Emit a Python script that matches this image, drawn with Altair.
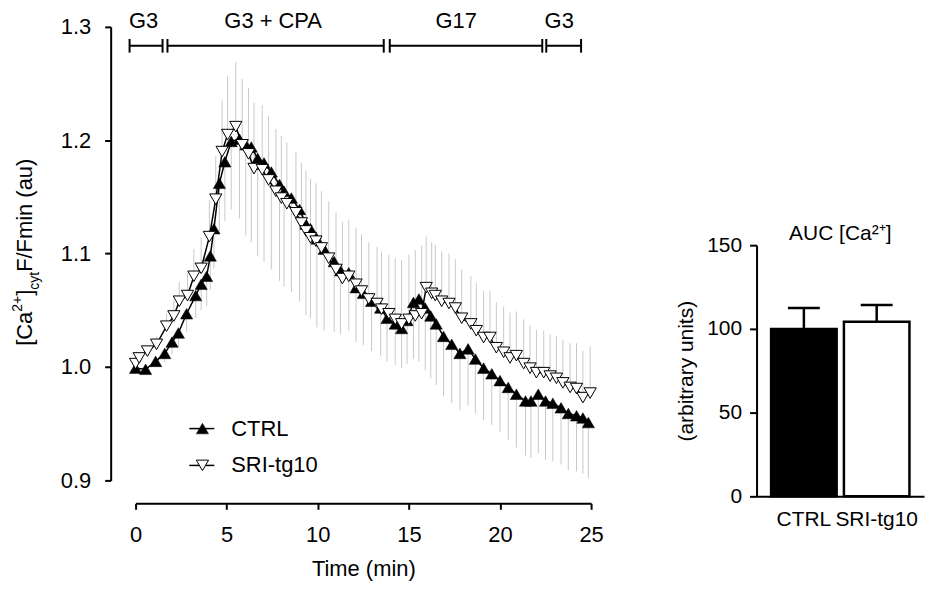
import altair as alt
import pandas as pd

# ---------------- data ----------------
ctrl_t = [0, 0.55, 1.1, 1.6, 2.0, 2.35, 2.8, 3.3, 3.6, 3.9, 4.1, 4.3, 4.6, 4.9, 5.25,
          5.7, 6.05, 6.35, 6.7, 7.05, 7.45, 7.9, 8.15, 8.55, 9.0, 9.35, 9.6, 9.95, 10.35, 10.9,
          11.25, 11.7, 12.1, 12.5, 12.95, 13.45, 13.8, 14.25, 14.6, 14.9, 15.25, 15.55, 15.9, 16.2, 16.5,
          16.9, 17.35, 17.8, 18.25, 18.65, 19.1, 19.55, 20.0, 20.45, 20.9, 21.4, 21.7, 22.1, 22.5, 22.9,
          23.35, 23.75, 24.2, 24.55, 24.85]
ctrl_y = [0.999, 0.998, 1.005, 1.012, 1.022, 1.030, 1.047, 1.063, 1.073, 1.080, 1.098, 1.122, 1.162, 1.181, 1.199,
          1.201, 1.196, 1.194, 1.184, 1.180, 1.172, 1.161, 1.155, 1.149, 1.139, 1.126, 1.122, 1.113, 1.104, 1.093,
          1.085, 1.083, 1.070, 1.065, 1.058, 1.052, 1.043, 1.038, 1.034, 1.041, 1.057, 1.060, 1.052, 1.045, 1.038,
          1.027, 1.020, 1.012, 1.016, 1.007, 0.999, 0.994, 0.988, 0.982, 0.976, 0.970, 0.970, 0.976, 0.970, 0.968,
          0.964, 0.959, 0.957, 0.955, 0.951]
ctrl_sem = [0.000, 0.002, 0.005, 0.008, 0.011, 0.013, 0.016, 0.020, 0.023, 0.026, 0.030, 0.035, 0.045, 0.052, 0.060,
            0.070, 0.080, 0.084, 0.086, 0.087, 0.086, 0.085, 0.084, 0.083, 0.081, 0.080, 0.079, 0.078, 0.072, 0.062,
            0.056, 0.051, 0.048, 0.046, 0.044, 0.042, 0.038, 0.036, 0.035, 0.038, 0.050, 0.055, 0.055, 0.055, 0.054,
            0.053, 0.052, 0.050, 0.050, 0.048, 0.046, 0.045, 0.045, 0.046, 0.047, 0.048, 0.050, 0.052, 0.052, 0.051,
            0.050, 0.050, 0.049, 0.049, 0.049]

sri_t = [0, 0.2, 0.65, 1.15, 1.7, 2.1, 2.4, 2.85, 3.2, 3.6, 4.05, 4.4, 4.75, 5.05, 5.5,
         5.85, 6.2, 6.5, 6.95, 7.3, 7.7, 8.0, 8.3, 8.8, 9.1, 9.35, 9.6, 9.9, 10.2, 10.6,
         11.0, 11.35, 11.7, 12.1, 12.4, 12.8, 13.25, 13.5, 13.9, 14.25, 14.6, 15.0, 15.35, 15.7, 15.95,
         16.25, 16.45, 16.8, 17.2, 17.55, 17.9, 18.4, 18.7, 19.1, 19.45, 19.8, 20.2, 20.55, 20.9, 21.3,
         21.65, 22.0, 22.4, 22.75, 23.1, 23.45, 23.85, 24.2, 24.55, 24.95]
sri_y = [1.003, 1.008, 1.014, 1.020, 1.036, 1.045, 1.058, 1.063, 1.080, 1.087, 1.115, 1.148, 1.190, 1.205, 1.212,
         1.196, 1.188, 1.175, 1.174, 1.165, 1.155, 1.149, 1.144, 1.136, 1.127, 1.120, 1.114, 1.111, 1.105, 1.096,
         1.086, 1.078, 1.080, 1.073, 1.067, 1.060, 1.056, 1.051, 1.047, 1.042, 1.038, 1.042, 1.045, 1.047, 1.070,
         1.065, 1.063, 1.058, 1.056, 1.052, 1.043, 1.038, 1.032, 1.026, 1.026, 1.017, 1.013, 1.008, 1.010, 1.003,
         0.999, 0.995, 0.995, 0.992, 0.990, 0.986, 0.982, 0.981, 0.973, 0.977]
sri_sem = [0.000, 0.002, 0.004, 0.007, 0.011, 0.014, 0.017, 0.020, 0.024, 0.027, 0.032, 0.038, 0.045, 0.052, 0.057,
           0.058, 0.058, 0.058, 0.057, 0.056, 0.055, 0.055, 0.054, 0.054, 0.053, 0.053, 0.052, 0.051, 0.050, 0.050,
           0.050, 0.050, 0.050, 0.050, 0.050, 0.050, 0.050, 0.051, 0.052, 0.054, 0.056, 0.057, 0.058, 0.060, 0.045,
           0.045, 0.045, 0.044, 0.044, 0.043, 0.043, 0.042, 0.042, 0.041, 0.041, 0.040, 0.040, 0.040, 0.039, 0.039,
           0.038, 0.038, 0.037, 0.037, 0.037, 0.038, 0.039, 0.040, 0.041, 0.041]

phase_labels = ["G3", "G3 + CPA", "G17", "G3"]
phase_start = [-0.33, 1.75, 13.95, 22.54]
phase_end = [1.48, 13.62, 22.32, 24.45]
phase_label_t = [0.44, 7.55, 17.6, 23.25]

legend_names = ["CTRL", "SRI-tg10"]

auc_groups = ["CTRL", "SRI-tg10"]
auc_mean = [100.0, 104.2]
auc_sem = [12.5, 10.1]

# ---------------- layout / style ----------------
FONT = "Liberation Sans"
FS = 22
FSB = 21
W, H = 457, 455
BAR_Y, TICK_H, TEXT_Y = 1.2833, 0.006, 1.3053
LEG_Y = [0.9457, 0.9132]
LEG_T0, LEG_T1, LEG_TM, LEG_TT = 2.95, 4.32, 3.67, 5.25

xscale = alt.Scale(domain=[0, 25], nice=False, zero=False)
yscale = alt.Scale(domain=[0.9, 1.3], nice=False, zero=False)
xaxis = alt.Axis(values=[0, 5, 10, 15, 20, 25], title="Time (min)", offset=23, tickSize=6,
                 labelPadding=15, titlePadding=13, labelFontSize=FS, titleFontSize=FS,
                 labelFlush=False)
yaxis = alt.Axis(values=[0.9, 1.0, 1.1, 1.2, 1.3], format=".1f", title=None, offset=25,
                 tickSize=6, labelPadding=14, labelFontSize=FS)


def X(f):
    return alt.X(f"{f}:Q", scale=xscale, axis=xaxis)


def Y(f):
    return alt.Y(f"{f}:Q", scale=yscale, axis=yaxis)


ctrl_df = pd.DataFrame({"t": ctrl_t, "y": ctrl_y,
                        "lo": [v - s for v, s in zip(ctrl_y, ctrl_sem)], "hi": ctrl_y})
sri_df = pd.DataFrame({"t": sri_t, "y": sri_y,
                       "lo": sri_y, "hi": [v + s for v, s in zip(sri_y, sri_sem)]})
ts_df = pd.concat([ctrl_df, sri_df], ignore_index=True)

err = alt.Chart(ts_df).mark_rule(color="#c9c9c9", strokeWidth=1).encode(
    x=X("t"), y=Y("lo"), y2="hi:Q")
line_c = alt.Chart(ctrl_df).mark_line(color="black", strokeWidth=1.5).encode(x=X("t"), y=Y("y"))
line_s = alt.Chart(sri_df).mark_line(color="black", strokeWidth=1.5).encode(x=X("t"), y=Y("y"))
pts_c = alt.Chart(ctrl_df).mark_point(shape="triangle-up", filled=True, fill="black",
                                      stroke="black", strokeWidth=0.5, size=150, opacity=1).encode(
    x=X("t"), y=Y("y"))
pts_s = alt.Chart(sri_df).mark_point(shape="triangle-down", filled=True, fill="white",
                                     stroke="black", strokeWidth=1, size=150, opacity=1).encode(
    x=X("t"), y=Y("y"))

phase_df = pd.DataFrame({"label": phase_labels, "start": phase_start, "end": phase_end,
                         "mid": phase_label_t})
phase_df["yb"] = BAR_Y
phase_df["y0"] = BAR_Y - TICK_H
phase_df["y1"] = BAR_Y + TICK_H
phase_df["yt"] = TEXT_Y

seg = alt.Chart(phase_df).mark_rule(color="black", strokeWidth=2).encode(
    x=X("start"), x2="end:Q", y=Y("yb"))
tick_l = alt.Chart(phase_df).mark_rule(color="black", strokeWidth=2).encode(
    x=X("start"), y=Y("y0"), y2="y1:Q")
tick_r = alt.Chart(phase_df).mark_rule(color="black", strokeWidth=2).encode(
    x=X("end"), y=Y("y0"), y2="y1:Q")
phase_txt = alt.Chart(phase_df).mark_text(font=FONT, fontSize=FS, align="center",
                                          baseline="middle", color="black").encode(
    x=X("mid"), y=Y("yt"), text="label:N")

leg_df = pd.DataFrame({"name": legend_names, "ly": LEG_Y})
leg_df["t0"] = LEG_T0
leg_df["t1"] = LEG_T1
leg_df["tm"] = LEG_TM
leg_df["tt"] = LEG_TT
leg_line = alt.Chart(leg_df).mark_rule(color="black", strokeWidth=1.5).encode(
    x=X("t0"), x2="t1:Q", y=Y("ly"))
leg_pc = alt.Chart(leg_df).transform_filter(alt.datum.name == "CTRL").mark_point(
    shape="triangle-up", filled=True, fill="black", stroke="black", strokeWidth=0.5,
    size=150, opacity=1).encode(x=X("tm"), y=Y("ly"))
leg_ps = alt.Chart(leg_df).transform_filter(alt.datum.name == "SRI-tg10").mark_point(
    shape="triangle-down", filled=True, fill="white", stroke="black", strokeWidth=1,
    size=150, opacity=1).encode(x=X("tm"), y=Y("ly"))
leg_txt = alt.Chart(leg_df).mark_text(font=FONT, fontSize=FS, align="left", baseline="middle",
                                      color="black").encode(x=X("tt"), y=Y("ly"), text="name:N")

# y-axis title with superscript / subscript pieces
one = pd.DataFrame({"a": [0]})
title_pieces = [("[Ca", 22, -104, 320), ("2+", 14, -114, 285.8), ("]", 22, -104, 269.8),
                ("cyt", 14, -97, 263.7), (" F/Fmin (au)", 22, -104, 245.8)]
ytitle_layers = [
    alt.Chart(one).mark_text(font=FONT, fontSize=fs, angle=270, align="left",
                             baseline="alphabetic", color="black").encode(
        x=alt.value(px), y=alt.value(py), text=alt.value(txt))
    for txt, fs, px, py in title_pieces
]

left = alt.layer(err, line_c, line_s, pts_c, pts_s, seg, tick_l, tick_r, phase_txt,
                 leg_line, leg_pc, leg_ps, leg_txt, *ytitle_layers).properties(width=W, height=H)

# ---------------- AUC bar chart ----------------
auc_df = pd.DataFrame({"group": auc_groups, "mean": auc_mean,
                       "hi": [m + s for m, s in zip(auc_mean, auc_sem)],
                       "fill": ["#000000", "#ffffff"]})
xb = alt.X("group:N", sort=auc_groups, scale=alt.Scale(paddingInner=0.1, paddingOuter=0.2),
           axis=alt.Axis(title=None, labelAngle=0, ticks=False, labelPadding=12,
                         labelFontSize=FSB))
bscale = alt.Scale(domain=[0, 150], nice=False, zero=True)
baxis = alt.Axis(values=[0, 50, 100, 150], title="(arbitrary units)", tickSize=7,
                 labelPadding=8, titlePadding=10, labelFontSize=FSB, titleFontSize=FSB)
bars = alt.Chart(auc_df).mark_bar(stroke="black", strokeWidth=2.5).encode(
    x=xb, y=alt.Y("mean:Q", scale=bscale, axis=baxis), fill=alt.Fill("fill:N", scale=None))
err_v = alt.Chart(auc_df).mark_rule(color="black", strokeWidth=2.5).encode(
    x=xb, y=alt.Y("mean:Q", scale=bscale, axis=baxis), y2="hi:Q")
caps = alt.Chart(auc_df).mark_tick(color="black", thickness=2.5, size=32, opacity=1).encode(
    x=xb, y=alt.Y("hi:Q", scale=bscale, axis=baxis))
right = alt.layer(bars, err_v, caps).properties(
    width=168, height=252,
    title=alt.TitleParams(text="AUC [Ca²⁺]", fontSize=FSB, font=FONT, fontWeight="normal",
                          offset=-10, frame="group", color="black"))

spacer = alt.Chart(one).mark_point(opacity=0).encode(
    x=alt.value(0), y=alt.value(0)).properties(width=168, height=195)

right_col = alt.vconcat(spacer, right, spacing=0)

chart = alt.hconcat(left, right_col, spacing=71).properties(
    padding={"left": 2, "top": 0, "right": 0, "bottom": 0}
).configure_view(stroke="transparent").configure_axis(
    domainColor="black", tickColor="black", labelColor="black", titleColor="black",
    domainWidth=2, tickWidth=2, labelFont=FONT, titleFont=FONT, titleFontWeight="normal",
    grid=False
)

chart.save("out.html", embed_options={"renderer": "svg", "actions": False})
